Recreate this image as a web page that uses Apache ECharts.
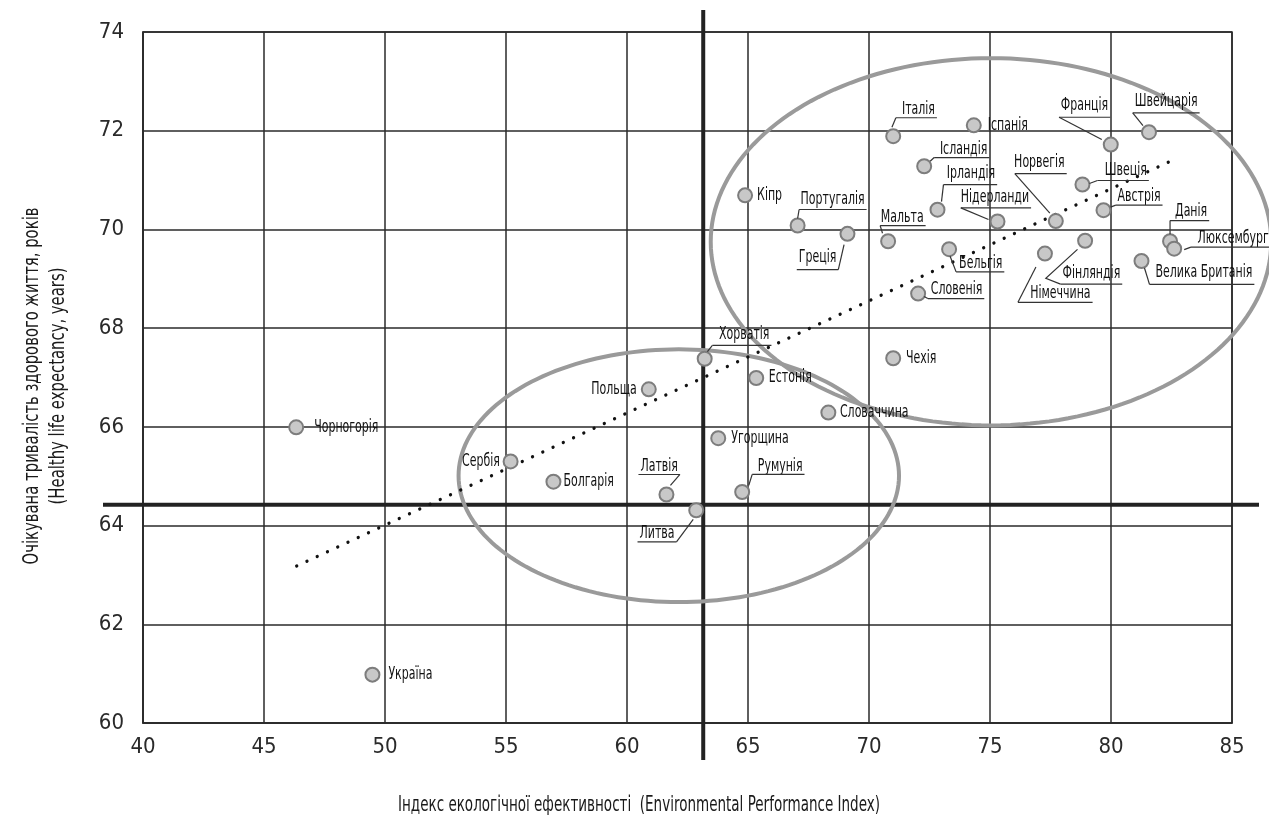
<!DOCTYPE html>
<html><head><meta charset="utf-8">
<script src="https://cdn.jsdelivr.net/npm/echarts@6/dist/echarts.min.js"></script>
<style>html,body{margin:0;padding:0;background:#fff}#c{width:1269px;height:821px}</style>
</head><body><div id="c"></div>
<script>
// ---------- DATA ----------
const countries = ['Кіпр','Португалія','Греція','Італія','Іспанія','Ісландія','Ірландія','Мальта','Нідерланди','Бельгія','Словенія','Франція','Швейцарія','Норвегія','Швеція','Австрія','Данія','Люксембург','Велика Британія','Фінляндія','Німеччина','Хорватія','Польща','Естонія','Чехія','Словаччина','Угорщина','Латвія','Румунія','Литва','Болгарія','Чорногорія','Сербія','Україна'];
const epi = [64.88,67.05,69.11,71.00,74.33,72.28,72.83,70.79,75.31,73.31,72.03,79.99,81.57,77.72,78.82,79.69,82.44,82.61,81.26,78.93,77.27,63.21,60.90,65.34,71.00,68.32,63.77,61.63,64.76,62.86,56.96,46.33,55.19,49.48];
const hle = [70.69,70.08,69.91,71.89,72.11,71.28,70.40,69.76,70.16,69.60,68.70,71.72,71.97,70.17,70.91,70.39,69.76,69.61,69.36,69.77,69.51,67.38,66.76,66.99,67.39,66.29,65.77,64.63,64.68,64.31,64.89,65.99,65.30,60.98];
const trendX = [46.35, 82.63];
const trendY = [63.18, 71.42];
const refX = [63.15];           // vertical reference (mean EPI)
const refY = [64.42];           // horizontal reference (mean HLE)
const ellipseCx = [75.04, 62.14];
const ellipseCy = [69.75, 65.01];
const ellipseRx = [11.58, 9.10];
const ellipseRy = [3.72, 2.56];
const xTicks = [40, 45, 50, 55, 60, 65, 70, 75, 80, 85];
const yTicks = [60, 62, 64, 66, 68, 70, 72, 74];
const xTitle = 'Індекс екологічної ефективності  (Environmental Performance Index)';
const yTitle = ['Очікувана тривалість здорового життя, років', '(Healthy life expectancy, years)'];

// ---------- LABEL LAYOUT (pixel offsets from the marker) ----------
const LABEL_LAYOUT = {
  'Кіпр': {t:[12,0]},
  'Португалія': {t:[3,-26], u:-16, x0:1.5, lead:[[0,-7]]},
  'Греція': {t:[-48.7,23.4], u:35.7, s:'R', lead:[[-3.4,10.7]]},
  'Італія': {t:[8.7,-26.7], u:-18.4, x0:2.7, lead:[[-1.3,-9]]},
  'Іспанія': {t:[14,0]},
  'Ісландія': {t:[15.7,-16.7], u:-8.7, x0:10, lead:[[6,-5]]},
  'Ірландія': {t:[9.3,-36], u:-25, x0:6, lead:[[4,-8]]},
  'Мальта': {t:[-7.3,-24], u:-15.7, x0:-8, lead:[[-5.6,-8]]},
  'Нідерланди': {t:[-36.7,-23.7], u:-13.7, x0:-36.7, lead:[[-9,-2]]},
  'Бельгія': {t:[10,14], u:22.7, x0:7, lead:[[1,7]]},
  'Словенія': {t:[12.7,-4], u:5, x0:9.7, lead:[[6,3]]},
  'Франція': {t:[-50,-39], u:-27.3, x0:-51.7, lead:[[-9,-5]]},
  'Швейцарія': {t:[-14.3,-31], u:-19.4, x0:-16.3, lead:[[-6,-6.5]]},
  'Норвегія': {t:[-41.7,-58], u:-47.4, x0:-41, lead:[[-6,-8]]},
  'Швеція': {t:[22.3,-14], u:-4, x0:15, lead:[[7,-1]]},
  'Австрія': {t:[14,-14], u:-5, x0:12.3, lead:[[7,-3]]},
  'Данія': {t:[5,-30], u:-20.7, x0:0, lead:[[0,-7]]},
  'Люксембург': {t:[23.4,-10], u:-1.6, x0:16.7, lead:[[10,1]]},
  'Велика Британія': {t:[14,12], u:23.3, x0:8, lead:[[3,7]]},
  'Фінляндія': {t:[-22.6,32.6], u:43.3, x0:-24.6, lead:[[-39.3,37.6],[-7.6,8.6]]},
  'Німеччина': {t:[-14.7,40], u:48.7, x0:-27, lead:[[-9,13.4]]},
  'Хорватія': {t:[14.3,-24.3], u:-13.3, x0:7.7, lead:[[2.7,-7]]},
  'Польща': {t:[-12,0], a:'right'},
  'Естонія': {t:[12.6,0]},
  'Чехія': {t:[12.7,0]},
  'Словаччина': {t:[11.6,0]},
  'Угорщина': {t:[13,0]},
  'Латвія': {t:[-26,-28], u:-20, s:'R', lead:[[4,-9]]},
  'Румунія': {t:[15.6,-25.7], u:-17.7, x0:10, lead:[[6.6,-6.7]]},
  'Литва': {t:[-56.7,23.3], u:31.7, s:'R', lead:[[-3,9]]},
  'Болгарія': {t:[10,0]},
  'Чорногорія': {t:[18,0]},
  'Сербія': {t:[-10.7,0], a:'right'},
  'Україна': {t:[16,0]}
};

const FAMILY = '"Liberation Sans Narrow","DejaVu Sans Condensed","Arial Narrow",sans-serif';
const LABEL_FONT = '17px ' + FAMILY;
const TITLE_FONT = '22px ' + FAMILY;
const mctx = document.createElement('canvas').getContext('2d');
function measure(t, font){ mctx.font = font || LABEL_FONT; return mctx.measureText(t).width; }
// horizontal condensing so the text matches the narrow typeface of the original
const LABEL_SCALE = 64 / measure('Португалія');
const XTITLE_SCALE = 482 / measure(xTitle, TITLE_FONT);
const YTITLE_SCALE = 357 / measure(yTitle[0], TITLE_FONT);

const chart = echarts.init(document.getElementById('c'), null, {renderer:'canvas'});

function renderLabel(params, api){
  const i = api.value(2);
  const name = countries[i];
  const L = LABEL_LAYOUT[name];
  const p = api.coord([api.value(0), api.value(1)]);
  const align = L.a || 'left';
  const w = measure(name) * LABEL_SCALE;
  const tx = p[0] + L.t[0], ty = p[1] + L.t[1];
  const children = [{type:'text', x:tx, y:ty, scaleX:LABEL_SCALE, style:{text:name, font:LABEL_FONT, fill:'#111', align:align, verticalAlign:'middle'}}];
  if (L.u !== undefined){
    const uy = p[1] + L.u;
    const right = tx + w + 2;
    let x0, start;
    if (L.s === 'R'){ x0 = tx - 2; start = [right, uy]; }
    else { x0 = p[0] + L.x0; start = [x0, uy]; }
    children.push({type:'line', shape:{x1:x0, y1:uy, x2:right, y2:uy}, style:{stroke:'#333', lineWidth:1.2}});
    const pts = [start].concat(L.lead.map(d => [p[0]+d[0], p[1]+d[1]]));
    children.push({type:'polyline', shape:{points:pts}, style:{stroke:'#333', lineWidth:1.2, fill:null}});
  }
  return {type:'group', children:children};
}

function renderEllipse(params, api){
  const c = api.coord([api.value(0), api.value(1)]);
  const s = api.size([api.value(2), api.value(3)]);
  const pts = [];
  for (let k = 0; k < 180; k++){
    const a = k / 180 * Math.PI * 2;
    pts.push([c[0] + s[0]*Math.cos(a), c[1] + s[1]*Math.sin(a)]);
  }
  return {type:'polygon', shape:{points:pts}, style:{fill:null, stroke:'#9a9a9a', lineWidth:4}};
}

function renderRef(params, api){
  const cs = params.coordSys;
  const p = api.coord([api.value(0), api.value(1)]);
  return {type:'group', children:[
    {type:'line', shape:{x1:p[0], y1:cs.y-22, x2:p[0], y2:cs.y+cs.height+37}, style:{stroke:'#222', lineWidth:4}},
    {type:'line', shape:{x1:cs.x-40, y1:p[1], x2:cs.x+cs.width+27, y2:p[1]}, style:{stroke:'#222', lineWidth:4}}
  ]};
}

const axisLabelStyle = {fontSize:22, color:'#2a2a2a', fontFamily:FAMILY};
const option = {
  animation:false,
  backgroundColor:'#fff',
  grid:{left:143, right:37, top:32, bottom:98, show:true, borderColor:'#2a2a2a', borderWidth:1.5},
  xAxis:{type:'value', min:xTicks[0], max:xTicks[xTicks.length-1], interval:5,
    axisLine:{show:true, lineStyle:{color:'#2a2a2a', width:1.5}}, axisTick:{show:false},
    splitLine:{show:true, lineStyle:{color:'#2a2a2a', width:1.5}},
    axisLabel:Object.assign({margin:13}, axisLabelStyle)},
  yAxis:{type:'value', min:yTicks[0], max:yTicks[yTicks.length-1], interval:2,
    axisLine:{show:true, lineStyle:{color:'#2a2a2a', width:1.5}}, axisTick:{show:false},
    splitLine:{show:true, lineStyle:{color:'#2a2a2a', width:1.5}},
    axisLabel:Object.assign({margin:19}, axisLabelStyle)},
  graphic:[
    {type:'text', x:639, y:805, scaleX:XTITLE_SCALE, style:{text:xTitle, font:TITLE_FONT, fill:'#1a1a1a', align:'center', verticalAlign:'middle'}},
    {type:'text', x:45, y:386, rotation:Math.PI/2, scaleX:YTITLE_SCALE, style:{text:yTitle.join('\n'), font:TITLE_FONT, lineHeight:26, fill:'#1a1a1a', align:'center', verticalAlign:'middle'}}
  ],
  series:[
    {type:'custom', name:'ref', renderItem:renderRef, data:[[refX[0], refY[0]]], z:3, silent:true, clip:false},
    {type:'custom', name:'clusters', renderItem:renderEllipse,
      data:ellipseCx.map((v,i)=>[v, ellipseCy[i], ellipseRx[i], ellipseRy[i]]), z:4, silent:true, clip:false},
    {type:'line', name:'trend', data:trendX.map((v,i)=>[v, trendY[i]]), symbol:'none', z:5, silent:true,
      lineStyle:{color:'#111', width:3.2, type:[0.1, 11.2], cap:'round'}},
    {type:'scatter', name:'countries', data:countries.map((c,i)=>[epi[i], hle[i]]), symbolSize:14, z:6,
      itemStyle:{color:'#c8c8c8', borderColor:'#7d7d7d', borderWidth:2, opacity:1}},
    {type:'custom', name:'labels', renderItem:renderLabel, data:countries.map((c,i)=>[epi[i], hle[i], i]), z:7, silent:true, clip:false}
  ]
};
chart.setOption(option);
</script>
</body></html>
